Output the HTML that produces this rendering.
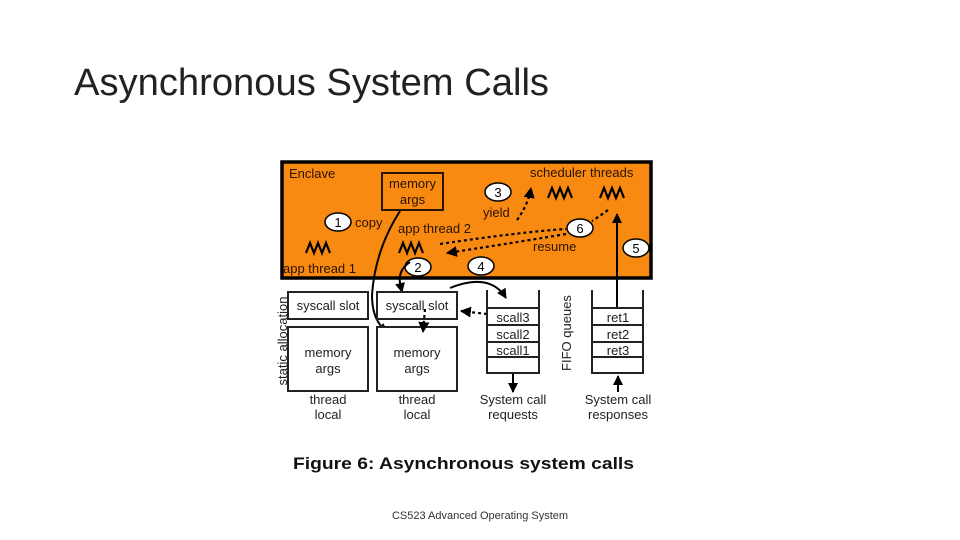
<!DOCTYPE html>
<html><head><meta charset="utf-8"><style>
html,body{margin:0;padding:0;background:#fff;}
svg{display:block;}
text{font-family:"Liberation Sans","DejaVu Sans",sans-serif;}
</style></head><body>
<svg width="960" height="540" viewBox="0 0 960 540" xmlns="http://www.w3.org/2000/svg">
<defs>
<marker id="ah" viewBox="0 0 10 10" refX="9" refY="5" markerWidth="5" markerHeight="5" orient="auto"><path d="M0,0 L10,5 L0,10 z" fill="#000"/></marker>
</defs>
<text x="74" y="95" font-size="38" textLength="475" lengthAdjust="spacingAndGlyphs" fill="#222">Asynchronous System Calls</text>

<rect x="282" y="162" width="369" height="116" fill="#f88a12" stroke="#000" stroke-width="3.5"/>
<g font-size="13" fill="#2a1200">
<text x="289" y="178">Enclave</text>
<text x="530" y="177">scheduler threads</text>
<text x="355" y="227">copy</text>
<text x="398" y="233">app thread 2</text>
<text x="283" y="273">app thread 1</text>
<text x="483" y="217">yield</text>
<text x="533" y="251">resume</text>
</g>
<rect x="382" y="173" width="61" height="37" fill="none" stroke="#2a1200" stroke-width="2"/>
<text x="412.5" y="188" font-size="13" text-anchor="middle" fill="#2a1200">memory</text>
<text x="412.5" y="204" font-size="13" text-anchor="middle" fill="#2a1200">args</text>
<g fill="none" stroke="#000" stroke-width="2.2">
<path d="M306,253 L310,243 L314,253 L318,243 L322,253 L326,243 L330,253"/>
<path d="M399,253 L403,243 L407,253 L411,243 L415,253 L419,243 L423,253"/>
<path d="M548,198 L552,188 L556,198 L560,188 L564,198 L568,188 L572,198"/>
<path d="M600,198 L604,188 L608,198 L612,188 L616,198 L620,188 L624,198"/>
</g>
<g stroke="#000" stroke-width="1.5" fill="#fff">
<ellipse cx="338" cy="222" rx="13" ry="9"/>
<ellipse cx="418" cy="267" rx="13" ry="9"/>
<ellipse cx="498" cy="192" rx="13" ry="9"/>
<ellipse cx="481" cy="266" rx="13" ry="9"/>
<ellipse cx="580" cy="228" rx="13" ry="9"/>
<ellipse cx="636" cy="248" rx="13" ry="9"/>
</g>
<g font-size="13" text-anchor="middle" fill="#000">
<text x="338" y="227">1</text><text x="418" y="272">2</text><text x="498" y="197">3</text>
<text x="481" y="271">4</text><text x="580" y="233">6</text><text x="636" y="253">5</text>
</g>
<g fill="none" stroke="#000" stroke-width="2.2" stroke-dasharray="3,3">
<path d="M517,220 Q528,205 531,188" marker-end="url(#ah)"/>
<path d="M440,244 Q520,232 566,229"/>
<path d="M608,210 Q597,218 592,221"/>
<path d="M566,234 Q500,245 447,253" marker-end="url(#ah)"/>
<path d="M487,314 L461,311" marker-end="url(#ah)"/>
<path d="M425,309 L423,332" marker-end="url(#ah)"/>
</g>
<g fill="none" stroke="#000" stroke-width="2">
<path d="M617,308 L617,214" marker-end="url(#ah)"/>
<path d="M400,211 Q375,250 372,295 Q372,322 388,332" marker-end="url(#ah)"/>
<path d="M410,262 Q398,270 400,283 L402,292" marker-end="url(#ah)"/>
<path d="M450,288 Q490,272 506,298" marker-end="url(#ah)"/>
<path d="M513,374 L513,392" marker-end="url(#ah)"/>
<path d="M618,392 L618,376" marker-end="url(#ah)"/>
</g>
<g fill="#fff" stroke="#222" stroke-width="2">
<rect x="288" y="292" width="80" height="27"/>
<rect x="377" y="292" width="80" height="27"/>
<rect x="288" y="327" width="80" height="64"/>
<rect x="377" y="327" width="80" height="64"/>
</g>
<path d="M425,309 L423,332" fill="none" stroke="#000" stroke-width="2.2" stroke-dasharray="3,3" marker-end="url(#ah)"/>
<g font-size="13" text-anchor="middle" fill="#222">
<text x="328" y="310">syscall slot</text><text x="417" y="310">syscall slot</text>
<text x="328" y="357">memory</text><text x="328" y="373">args</text>
<text x="417" y="357">memory</text><text x="417" y="373">args</text>
<text x="328" y="404">thread</text><text x="328" y="419">local</text>
<text x="417" y="404">thread</text><text x="417" y="419">local</text>
<text x="513" y="404">System call</text><text x="513" y="419">requests</text>
<text x="618" y="404">System call</text><text x="618" y="419">responses</text>
<text x="513" y="322">scall3</text><text x="513" y="339">scall2</text><text x="513" y="355">scall1</text>
<text x="618" y="322">ret1</text><text x="618" y="339">ret2</text><text x="618" y="355">ret3</text>
</g>
<g fill="none" stroke="#222" stroke-width="2">
<path d="M487,290 L487,373 L539,373 L539,290"/>
<path d="M487,308 H539 M487,325 H539 M487,342 H539 M487,357 H539"/>
<path d="M592,290 L592,373 L643,373 L643,290"/>
<path d="M592,308 H643 M592,325 H643 M592,342 H643 M592,357 H643"/>
</g>
<text transform="translate(287,341) rotate(-90)" font-size="13" text-anchor="middle" fill="#222">static allocation</text>
<text transform="translate(571,333) rotate(-90)" font-size="13" text-anchor="middle" fill="#222">FIFO queues</text>

<text x="293" y="469" font-size="17" font-weight="bold" textLength="341" lengthAdjust="spacingAndGlyphs" fill="#111">Figure 6: Asynchronous system calls</text>
<text x="480" y="519" font-size="11" text-anchor="middle" fill="#333">CS523 Advanced Operating System</text>
</svg>
</body></html>
